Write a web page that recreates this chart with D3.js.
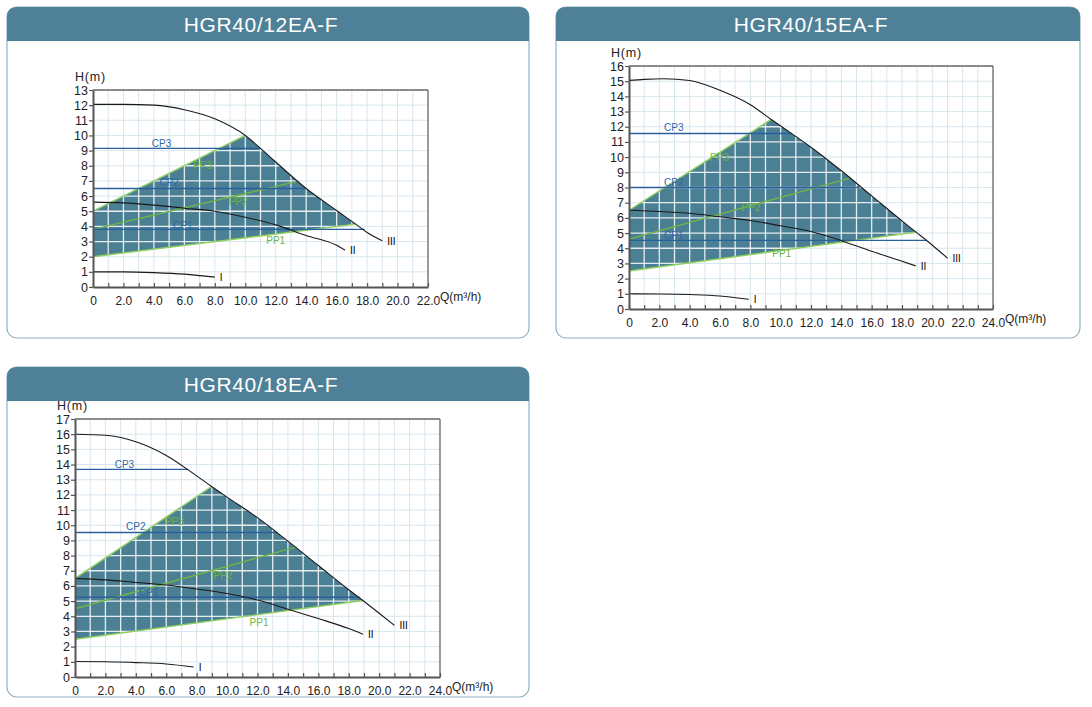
<!DOCTYPE html>
<html>
<head>
<meta charset="utf-8">
<script src="https://cdn.jsdelivr.net/npm/d3@7/dist/d3.min.js"></script>
<style>
  body { margin: 0; background: #fff; }
  svg { display: block; font-family: Arial, "Liberation Sans", sans-serif; }
</style>
</head>
<body>
<svg id="curves" width="1092" height="707"></svg>
<script>
const titles = ["HGR40/12EA-F", "HGR40/15EA-F", "HGR40/18EA-F"];
const qMax = [22, 24, 24];
const hMax = [13, 16, 17];

// [Q, H] points of the max-speed curve III, curve II and curve I
const curveIII_12 = [[0,12.05],[2,12.05],[4,12.0],[6,11.7],[8,11.1],[10,10.0],[11,9.15],[12,8.25],[14,6.5],[16,5.05],[17.25,4.15],[18,3.6],[19,3.05]];
const curveII_12  = [[0,5.6],[2,5.55],[4,5.4],[6,5.2],[8,5.0],[10,4.6],[12,4.1],[14,3.4],[16,2.75],[16.55,2.42]];
const curveI_12   = [[0,1.0],[2,1.0],[4,0.95],[6,0.85],[8,0.65]];

const curveIII_15 = [[0,15.05],[1,15.12],[2.3,15.16],[4,15.05],[6,14.4],[8,13.45],[9.38,12.48],[10,12.05],[12,10.65],[14,9.1],[16,7.45],[18,5.8],[18.93,5.06],[20,4.2],[21,3.35]];
const curveII_15  = [[0,6.5],[2,6.42],[4,6.3],[6,6.07],[8,5.83],[10,5.48],[12,5.1],[14,4.5],[16,3.8],[18,3.15],[18.9,2.84]];
const curveI_15   = [[0,1.0],[2,0.99],[4,0.95],[6,0.86],[7.9,0.64]];

const curveIII_18 = [[0,16.0],[2,15.93],[4,15.5],[6,14.6],[8,13.25],[8.98,12.55],[10,11.85],[12,10.5],[14,8.95],[16,7.35],[18,5.75],[18.93,5.04],[20,4.2],[21,3.4]];
const curveII_18  = [[0,6.5],[2,6.4],[4,6.23],[6,6.06],[8,5.8],[10,5.5],[12,5.07],[14,4.47],[16,3.85],[18,3.19],[18.93,2.82]];
const curveI_18   = [[0,1.02],[2,1.0],[4,0.95],[6,0.86],[7.8,0.66]];

// proportional pressure lines PP1..PP3: [Q start, H start, Q end, H end]
const pp_12 = [[0,2.0,17.25,4.15],[0,3.8,13.4,6.97],[0,5.0,10.0,10.0]];
const pp_15 = [[0,2.5,18.93,5.06],[0,4.6,14.63,8.63],[0,6.5,9.38,12.48]];
const pp_18 = [[0,2.49,18.93,5.04],[0,4.5,14.57,8.57],[0,6.5,8.98,12.55]];

// constant pressure lines CP1..CP3: head and Q where they stop
const cpHead_12 = [3.8, 6.5, 9.15];
const cpEnd_12  = [17.84, 13.98, 10.95];
const cpHead_15 = [4.52, 8.0, 11.56];
const cpEnd_15  = [19.6, 15.2, 10.75];
const cpHead_18 = [5.25, 9.52, 13.68];
const cpEnd_18  = [18.7, 13.3, 7.45];

const cpNames = ["CP1", "CP2", "CP3"];
const ppNames = ["PP1", "PP2", "PP3"];
const curveNames = ["I", "II", "III"];

// ---- layout ----
const svg = d3.select("#curves");
const headerH = 34;

const charts = [
  { title: titles[0], qMax: qMax[0], hMax: hMax[0],
    curves: [curveI_12, curveII_12, curveIII_12], pp: pp_12, cpHead: cpHead_12, cpEnd: cpEnd_12,
    panel: { x: 7, y: 7, w: 522, h: 331 }, plot: { x0: 93, x1: 428, y0: 90, y1: 287 },
    cpLab: [[5.9,4.05],[5.0,6.9],[4.5,9.45]], ppLab: [[12.0,3.1],[9.55,5.65],[7.2,8.05]] },
  { title: titles[1], qMax: qMax[1], hMax: hMax[1],
    curves: [curveI_15, curveII_15, curveIII_15], pp: pp_15, cpHead: cpHead_15, cpEnd: cpEnd_15,
    panel: { x: 556, y: 7, w: 524, h: 331 }, plot: { x0: 629, x1: 993, y0: 66, y1: 309 },
    cpLab: [[2.95,4.82],[2.95,8.34],[2.95,11.93]], ppLab: [[10.07,3.68],[8.06,6.71],[5.96,9.97]] },
  { title: titles[2], qMax: qMax[2], hMax: hMax[2],
    curves: [curveI_18, curveII_18, curveIII_18], pp: pp_18, cpHead: cpHead_18, cpEnd: cpEnd_18,
    panel: { x: 7, y: 367, w: 522, h: 330 }, plot: { x0: 75, x1: 440, y0: 419, y1: 677 },
    cpLab: [[4.84,5.6],[4.0,9.9],[3.25,14.0]], ppLab: [[12.1,3.6],[9.73,6.68],[6.55,10.24]] }
];

function roundedTop(x, y, w, h, r) {
  return `M${x},${y + h} V${y + r} Q${x},${y} ${x + r},${y} H${x + w - r} Q${x + w},${y} ${x + w},${y + r} V${y + h} Z`;
}

function drawChart(c, i) {
  const p = c.panel;
  const g = svg.append("g");

  // panel frame + header band
  g.append("rect").attr("x", p.x).attr("y", p.y).attr("width", p.w).attr("height", p.h)
    .attr("rx", 10).attr("fill", "#fff").attr("stroke", "#8fb1c2").attr("stroke-width", 1.2);
  g.append("path").attr("d", roundedTop(p.x, p.y, p.w, headerH, 10)).attr("fill", "#4e8197");
  g.append("text").attr("x", p.x + p.w / 2 - 7).attr("y", p.y + 25)
    .attr("text-anchor", "middle").attr("fill", "#fff").attr("font-size", 21)
    .attr("letter-spacing", 0.6).text(c.title);

  const x = d3.scaleLinear().domain([0, c.qMax]).range([c.plot.x0, c.plot.x1]);
  const y = d3.scaleLinear().domain([0, c.hMax]).range([c.plot.y1, c.plot.y0]);

  // light grid, one cell per unit
  function gridLines(sel, color, width, opacity) {
    sel.selectAll("line.v").data(d3.range(1, c.qMax)).join("line").attr("class", "v")
      .attr("x1", d => x(d)).attr("x2", d => x(d)).attr("y1", y(0)).attr("y2", y(c.hMax))
      .attr("stroke", color).attr("stroke-opacity", opacity).attr("stroke-width", width);
    sel.selectAll("line.h").data(d3.range(1, c.hMax)).join("line").attr("class", "h")
      .attr("x1", x(0)).attr("x2", x(c.qMax)).attr("y1", d => y(d)).attr("y2", d => y(d))
      .attr("stroke", color).attr("stroke-opacity", opacity).attr("stroke-width", width);
  }
  g.append("g").call(gridLines, "#d8e6ee", 1, 1);

  // operating area: PP3 top, curve III, PP1 bottom
  const lo = c.pp[0], hi = c.pp[2];
  const curveIII = c.curves[2];
  const edge = curveIII.filter(d => d[0] >= hi[2] && d[0] <= lo[2]);
  const smooth = d3.line().x(d => x(d[0])).y(d => y(d[1])).curve(d3.curveMonotoneX);
  const areaD = `M${x(lo[0])},${y(lo[1])} L${x(hi[0])},${y(hi[1])} L${x(hi[2])},${y(hi[3])} `
    + smooth(edge).replace(/^M/, "L") + ` L${x(lo[2])},${y(lo[3])} Z`;

  const clipId = "area-clip-" + i;
  g.append("clipPath").attr("id", clipId).append("path").attr("d", areaD);
  g.append("path").attr("d", areaD).attr("fill", "#4b7f94");
  g.append("g").attr("clip-path", `url(#${clipId})`).call(gridLines, "#fff", 1.3, 0.85);

  // PP lines
  g.selectAll("line.pp").data(c.pp).join("line").attr("class", "pp")
    .attr("x1", d => x(d[0])).attr("y1", d => y(d[1])).attr("x2", d => x(d[2])).attr("y2", d => y(d[3]))
    .attr("stroke", (d, k) => k === 1 ? "#6fb547" : "#8fd05e").attr("stroke-width", 1.4);

  // CP lines
  g.selectAll("line.cp").data(c.cpHead).join("line").attr("class", "cp")
    .attr("x1", x(0)).attr("x2", (d, k) => x(c.cpEnd[k]))
    .attr("y1", d => y(d)).attr("y2", d => y(d))
    .attr("stroke", "#28609e").attr("stroke-width", 1.4);

  // pump curves
  g.selectAll("path.curve").data(c.curves).join("path").attr("class", "curve")
    .attr("d", smooth).attr("fill", "none").attr("stroke", "#1a1a1a").attr("stroke-width", 1.1);

  g.selectAll("text.cname").data(c.curves).join("text").attr("class", "cname")
    .attr("x", d => x(d[d.length - 1][0]) + 5).attr("y", d => y(d[d.length - 1][1]) + 4)
    .attr("font-size", 10).attr("fill", "#000").text((d, k) => curveNames[k]);

  // line labels
  g.selectAll("text.cpl").data(c.cpLab).join("text").attr("class", "cpl")
    .attr("x", d => x(d[0])).attr("y", d => y(d[1]) + 3.5).attr("text-anchor", "middle")
    .attr("font-size", 10).attr("fill", "#2e66a8").text((d, k) => cpNames[k]);
  g.selectAll("text.ppl").data(c.ppLab).join("text").attr("class", "ppl")
    .attr("x", d => x(d[0])).attr("y", d => y(d[1]) + 3.5).attr("text-anchor", "middle")
    .attr("font-size", 10).attr("fill", "#6cb33f").text((d, k) => ppNames[k]);

  // frame top/right
  g.append("line").attr("x1", x(0)).attr("x2", x(c.qMax)).attr("y1", y(c.hMax)).attr("y2", y(c.hMax))
    .attr("stroke", "#666").attr("stroke-width", 1.3);
  g.append("line").attr("x1", x(c.qMax)).attr("x2", x(c.qMax)).attr("y1", y(0)).attr("y2", y(c.hMax))
    .attr("stroke", "#666").attr("stroke-width", 1.3);

  // axes
  const xAxis = d3.axisBottom(x).tickValues(d3.range(0, c.qMax + 1)).tickSizeInner(-4).tickSizeOuter(0)
    .tickFormat(d => d % 2 ? "" : (d === 0 ? "0" : d3.format(".1f")(d)));
  const ax = g.append("g").attr("transform", `translate(0,${y(0)})`).call(xAxis);
  ax.select(".domain").attr("stroke", "#555").attr("stroke-width", 2);
  ax.selectAll(".tick line").attr("stroke", "#555").attr("stroke-width", 1.2);
  ax.selectAll(".tick text").attr("y", 9).attr("dy", "0.71em").attr("font-size", 12)
    .attr("font-family", "Arial, 'Liberation Sans', sans-serif").attr("fill", "#222");

  const yAxis = d3.axisLeft(y).tickValues(d3.range(0, c.hMax + 1)).tickSizeInner(4).tickSizeOuter(0)
    .tickFormat(d3.format("d"));
  const ay = g.append("g").attr("transform", `translate(${x(0)},0)`).call(yAxis);
  ay.select(".domain").attr("stroke", "#555").attr("stroke-width", 2);
  ay.selectAll(".tick line").attr("stroke", "#555").attr("stroke-width", 1.2);
  ay.selectAll(".tick text").attr("x", -5).attr("font-size", 12.5)
    .attr("font-family", "Arial, 'Liberation Sans', sans-serif").attr("fill", "#222");

  // axis titles
  g.append("text").attr("x", x(0) - 18).attr("y", y(c.hMax) - 9)
    .attr("font-size", 12.5).attr("letter-spacing", 0.8).attr("fill", "#222").text("H(m)");
  g.append("text").attr("x", x(c.qMax) + 12).attr("y", y(0) + 14)
    .attr("font-size", 12).attr("fill", "#222").text("Q(m³/h)");
}

charts.forEach(drawChart);
</script>
</body>
</html>
